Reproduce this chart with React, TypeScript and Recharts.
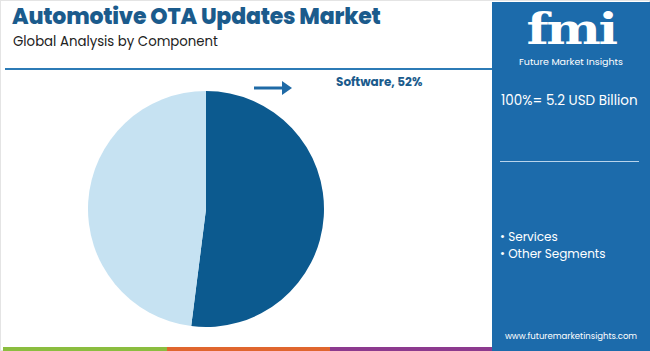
import React from "react";
import { PieChart, Pie, Cell } from "recharts";

const segments = ["Software", "Services"];
const shares = [52, 48];
const colors = ["#0c5a8f", "#c6e2f2"];
const panelItems = ["Services", "Other Segments"];
const title = "Automotive OTA Updates Market";
const subtitle = "Global Analysis by Component";
const totalLabel = "100%= 5.2 USD Billion";

const data = segments.map((name, i) => ({ name, value: shares[i] }));

const font = "Poppins, 'Open Sans', Roboto, sans-serif";

export default function App() {
  return (
    <div style={{ position: "fixed", left: 0, top: 0, width: 650, height: 351, background: "#fff", overflow: "hidden", fontFamily: font }}>
      <div style={{ position: "absolute", left: 0, top: 0, width: 648, height: 349, border: "1px solid #e4e4e4" }} />
      <div style={{ position: "absolute", left: 12, top: 4, fontSize: 22, lineHeight: "25px", fontWeight: 800, color: "#1b5b8c", letterSpacing: -0.2, whiteSpace: "nowrap" }}>{title}</div>
      <div style={{ position: "absolute", left: 13, top: 33, fontSize: 13.3, lineHeight: "17px", color: "#222", whiteSpace: "nowrap" }}>{subtitle}</div>
      <div style={{ position: "absolute", left: 5, top: 68, width: 488, height: 2, background: "#2c7bb6" }} />
      <div style={{ position: "absolute", left: 0, top: 0 }}>
        <PieChart width={492} height={351} margin={{ top: 0, right: 0, bottom: 0, left: 0 }}>
          <Pie data={data} dataKey="value" cx={206} cy={209} outerRadius={118} startAngle={90} endAngle={-270} stroke="none" isAnimationActive={false}>
            {data.map((d, i) => <Cell key={d.name} fill={colors[i]} />)}
          </Pie>
        </PieChart>
      </div>
      <svg style={{ position: "absolute", left: 254, top: 80 }} width={40} height={16}>
        <line x1={0} y1={8} x2={30} y2={8} stroke="#1f6aa6" strokeWidth={3} />
        <polygon points="28,1 38,8 28,15" fill="#1f6aa6" />
      </svg>
      <div style={{ position: "absolute", left: 336, top: 74, fontSize: 12, lineHeight: "16px", fontWeight: 700, color: "#1b5b8c", whiteSpace: "nowrap" }}>{`${segments[0]}, ${shares[0]}%`}</div>
      <div style={{ position: "absolute", left: 492, top: 2, width: 158, height: 349, background: "#1c6bab" }} />
      <div style={{ position: "absolute", left: 516, top: 7, width: 110, fontSize: 43, fontWeight: 900, color: "#fff", fontFamily: "'DejaVu Serif', serif", lineHeight: "44px", letterSpacing: -2, textAlign: "center", transform: "scaleX(1.2)" }}>fmi</div>
      <div style={{ position: "absolute", left: 492, top: 55, width: 158, textAlign: "center", fontSize: 9.5, lineHeight: "13px", color: "#fff" }}>Future Market Insights</div>
      <div style={{ position: "absolute", left: 501, top: 92, fontSize: 13.5, lineHeight: "18px", color: "#fff", whiteSpace: "nowrap" }}>{totalLabel}</div>
      <div style={{ position: "absolute", left: 500, top: 161, width: 139, height: 1, background: "#b8d4ec" }} />
      {panelItems.map((t, i) => (
        <div key={t} style={{ position: "absolute", left: 500, top: 229 + i * 17, fontSize: 12, lineHeight: "16px", color: "#fff", whiteSpace: "nowrap" }}>{`• ${t}`}</div>
      ))}
      <div style={{ position: "absolute", left: 492, top: 330, width: 158, textAlign: "center", fontSize: 8.5, lineHeight: "12px", color: "#fff" }}>www.futuremarketinsights.com</div>
      <div style={{ position: "absolute", left: 3, top: 347, width: 164, height: 4, background: "#8bbd3f" }} />
      <div style={{ position: "absolute", left: 167, top: 347, width: 163, height: 4, background: "#e0662f" }} />
      <div style={{ position: "absolute", left: 330, top: 347, width: 162, height: 4, background: "#8c3a8e" }} />
    </div>
  );
}
